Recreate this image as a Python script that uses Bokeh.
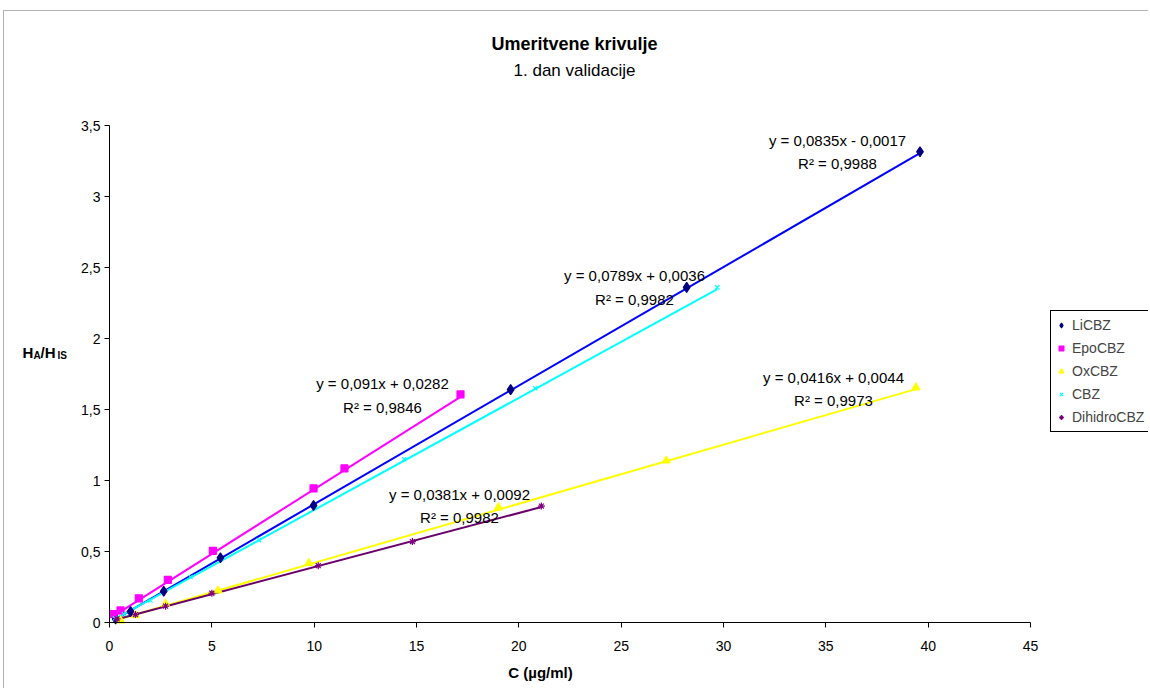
from bokeh.plotting import figure
from bokeh.models import Range1d, FixedTicker, Label, Legend, LegendItem, BoxAnnotation
from bokeh.embed import file_html
from bokeh.resources import INLINE

# ---------------- data ----------------
series_names = ["LiCBZ", "EpoCBZ", "OxCBZ", "CBZ", "DihidroCBZ"]

li_x = [0.3, 1.03, 2.65, 5.42, 9.97, 19.6, 28.2, 39.6]
li_y = [0.025, 0.077, 0.22, 0.456, 0.824, 1.64, 2.36, 3.315]

epo_x = [0.21, 0.54, 1.43, 2.85, 5.05, 9.97, 11.48, 17.15]
epo_y = [0.06, 0.085, 0.17, 0.30, 0.505, 0.944, 1.085, 1.606]

ox_x = [0.54, 1.27, 2.74, 5.3, 9.74, 19.0, 27.2, 39.4]
ox_y = [0.014, 0.05, 0.13, 0.225, 0.418, 0.81, 1.14, 1.655]

cbz_x = [0.27, 0.7, 2.0, 3.96, 7.3, 14.4, 20.8, 29.7]
cbz_y = [0.03, 0.06, 0.155, 0.32, 0.58, 1.15, 1.65, 2.36]

dih_x = [0.37, 1.27, 2.74, 5.0, 10.2, 14.8, 21.1]
dih_y = [0.026, 0.056, 0.115, 0.206, 0.40, 0.57, 0.82]

# trendline coefficients (from the chart's labels)
slopes = [0.0835, 0.091, 0.0416, 0.0789, 0.0381]
intercepts = [-0.0017, 0.0282, 0.0044, 0.0036, 0.0092]
eq_texts = ["y = 0,0835x - 0,0017", "y = 0,091x + 0,0282", "y = 0,0416x + 0,0044",
            "y = 0,0789x + 0,0036", "y = 0,0381x + 0,0092"]
r2_texts = ["R² = 0,9988", "R² = 0,9846", "R² = 0,9973", "R² = 0,9982", "R² = 0,9982"]

x_ticks = [0, 5, 10, 15, 20, 25, 30, 35, 40, 45]
y_ticks = [0, 0.5, 1, 1.5, 2, 2.5, 3, 3.5]
y_tick_labels = ["0", "0,5", "1", "1,5", "2", "2,5", "3", "3,5"]

title_text = "Umeritvene krivulje"
subtitle_text = "1. dan validacije"
x_label = "C (µg/ml)"

# ---------------- layout (pixels) ----------------
W, H = 1148, 688
AX_L, AX_R = 109, 1030     # pixel of x=0 and x=45
AX_B, AX_T = 622, 125      # pixel of y=0 and y=3.5
XMAX, YMAX = 45, 3.5
sx = (AX_R - AX_L) / XMAX
sy = (AX_B - AX_T) / YMAX


def dx(px):
    return (px - AX_L) / sx


def dy(py):
    return (AX_B - py) / sy


FONT = "Liberation Sans"
marker_colors = ["#000080", "#FF00FF", "#FFFF00", "#00FFFF", "#800080"]
line_colors = ["#0000FF", "#FF00FF", "#FFFF00", "#00FFFF", "#6A006A"]
markers = ["diamond", "square", "triangle", "x", "asterisk"]
marker_sizes = [10, 7, 8, 6, 7]

p = figure(width=W, height=H, min_border=0,
           x_range=Range1d(dx(0), dx(W)), y_range=Range1d(dy(H), dy(0)),
           output_backend="svg", toolbar_location=None,
           background_fill_color="white", border_fill_color="white")
p.outline_line_color = None
p.grid.visible = False

# chart-area border
p.add_layout(BoxAnnotation(left=dx(3), right=dx(W + 20), top=dy(10), bottom=dy(H + 20),
                           fill_color=None, fill_alpha=0, line_color="black", line_width=1))

# axes (fixed inside the frame)
p.xaxis.fixed_location = 0
p.yaxis.fixed_location = 0
p.xaxis.bounds = (0, XMAX)
p.yaxis.bounds = (0, YMAX)
p.xaxis.ticker = FixedTicker(ticks=x_ticks)
p.yaxis.ticker = FixedTicker(ticks=y_ticks)
p.yaxis.major_label_overrides = {t: l for t, l in zip(y_ticks, y_tick_labels)}
for ax in (p.xaxis[0], p.yaxis[0]):
    ax.axis_line_color = "black"
    ax.major_tick_line_color = "black"
    ax.major_tick_out = 5
    ax.major_tick_in = 0
    ax.minor_tick_line_color = None
    ax.major_label_text_font = FONT
    ax.major_label_text_font_size = "14px"
    ax.major_label_text_color = "black"
p.xaxis.major_label_standoff = 13
p.yaxis.major_label_standoff = 4

all_x = [li_x, epo_x, ox_x, cbz_x, dih_x]
all_y = [li_y, epo_y, ox_y, cbz_y, dih_y]

for i, name in enumerate(series_names):
    xs = all_x[i]
    x0, x1 = min(xs), max(xs)
    p.line([x0, x1], [slopes[i] * x0 + intercepts[i], slopes[i] * x1 + intercepts[i]],
           line_color=line_colors[i], line_width=2)

items = []
for i, name in enumerate(series_names):
    r = p.scatter(all_x[i], all_y[i], marker=markers[i], size=marker_sizes[i],
                  fill_color=marker_colors[i], line_color=marker_colors[i], line_width=1.2)
    items.append(LegendItem(label=name, renderers=[r]))

legend = Legend(items=items, location=(1050, H - 432), border_line_color="black",
                border_line_width=1, border_line_alpha=1, background_fill_color="white",
                label_text_font=FONT, label_text_font_size="14px",
                label_height=20, glyph_height=20, glyph_width=12,
                label_standoff=5, spacing=3, padding=4, margin=0)
p.add_layout(legend, "center")

# equation labels (centres, in pixels of the chart)
eq_pos = [(837, 140, 163), (382, 383, 407), (833, 377, 400),
          (634, 275, 299), (459, 494, 517)]
for i in range(5):
    cx, ey, ry = eq_pos[i]
    p.add_layout(Label(x=dx(cx), y=dy(ey), text=eq_texts[i], text_align="center",
                       text_baseline="middle", text_font=FONT,
                       text_font_size="15px", text_color="black"))
    p.add_layout(Label(x=dx(cx), y=dy(ry), text=r2_texts[i], text_align="center",
                       text_baseline="middle", text_font=FONT,
                       text_font_size="15px", text_color="black"))

# titles
p.add_layout(Label(x=dx(574), y=dy(43), text=title_text, text_align="center",
                   text_baseline="middle", text_font=FONT, text_font_size="18px",
                   text_font_style="bold", text_color="black"))
p.add_layout(Label(x=dx(574), y=dy(70), text=subtitle_text, text_align="center",
                   text_baseline="middle", text_font=FONT, text_font_size="17px",
                   text_color="black"))

# x axis title
p.add_layout(Label(x=dx(540), y=dy(672), text=x_label, text_align="center",
                   text_baseline="middle", text_font=FONT, text_font_size="15px",
                   text_font_style="bold", text_color="black"))

# y axis title  H_A/H_IS
ylab_parts = [("H", 22, 352, "15px"), ("A", 33, 355, "10px"),
              ("/H", 40, 352, "15px"), ("IS", 57, 355, "10px")]
for txt, px, py, fs in ylab_parts:
    p.add_layout(Label(x=dx(px), y=dy(py), text=txt, text_align="left",
                       text_baseline="alphabetic", text_font=FONT,
                       text_font_size=fs, text_font_style="bold", text_color="black"))

open("out.html", "w").write(file_html(p, INLINE))
